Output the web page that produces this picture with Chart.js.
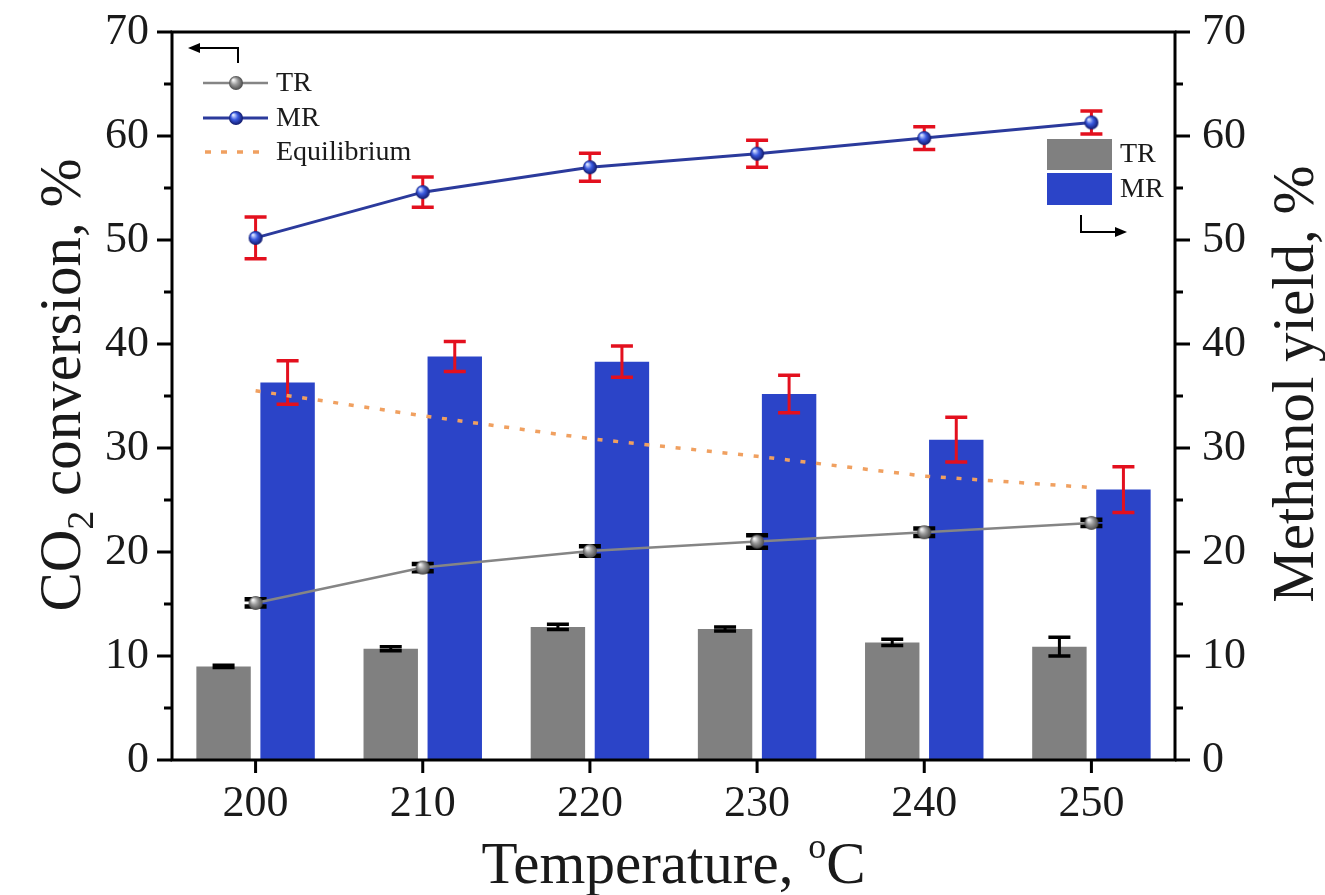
<!DOCTYPE html>
<html>
<head>
<meta charset="utf-8">
<script src="https://cdn.jsdelivr.net/npm/chart.js@4.4.1/dist/chart.umd.min.js"></script>
<style>
  html, body { margin: 0; padding: 0; background: #fff; }
  #wrap { width: 1325px; height: 895px; }
</style>
</head>
<body>
<div id="wrap"><canvas id="tempChart" width="1325" height="895"></canvas></div>
<script>
// data
const temperatures = ['200', '210', '220', '230', '240', '250'];
const trConversion = [15.1, 18.5, 20.1, 21.0, 21.9, 22.8];
const trConversionErr = [0.35, 0.35, 0.45, 0.6, 0.35, 0.3];
const mrConversion = [50.2, 54.6, 57.0, 58.3, 59.8, 61.3];
const mrConversionErr = [2.0, 1.45, 1.35, 1.3, 1.1, 1.1];
const equilibrium = [35.5, 33.1, 30.9, 29.2, 27.3, 26.2];
const trYield = [9.0, 10.7, 12.8, 12.6, 11.3, 10.9];
const trYieldErr = [0.1, 0.2, 0.25, 0.2, 0.3, 0.9];
const mrYield = [36.3, 38.8, 38.3, 35.2, 30.8, 26.0];
const mrYieldErr = [2.1, 1.45, 1.5, 1.8, 2.15, 2.2];
const majorTicks = [0, 10, 20, 30, 40, 50, 60, 70];
const minorTicks = [5, 15, 25, 35, 45, 55, 65];

const SERIF = '"Liberation Serif", "Times New Roman", serif';
const TEXT = '#1a1a1a';

function makeSphere(light, mid, dark, r) {
    var c = document.createElement('canvas');
    c.width = c.height = r * 2 + 2;
    var g = c.getContext('2d');
    var grad = g.createRadialGradient(r * 0.75, r * 0.7, r * 0.1, r + 1, r + 1, r);
    grad.addColorStop(0, light);
    grad.addColorStop(0.45, mid);
    grad.addColorStop(1, dark);
    g.fillStyle = grad;
    g.beginPath();
    g.arc(r + 1, r + 1, r, 0, Math.PI * 2);
    g.fill();
    return c;
}
var graySphere = makeSphere('#f4f4f4', '#9a9a9a', '#4a4a4a', 7);
var blueSphere = makeSphere('#d8e2ff', '#3a5ae0', '#10186a', 7);

// error bars, drawn with the chart's own scales
function drawErrors(chart, index) {
    var ds = chart.data.datasets[index];
    if (!ds.errors) return;
    var meta = chart.getDatasetMeta(index);
    var yScale = chart.scales[ds.yAxisID];
    var ctx = chart.ctx;
    ctx.save();
    ctx.strokeStyle = ds.errorColor;
    meta.data.forEach(function(el, i) {
        var v = ds.data[i], e = ds.errors[i];
        var x = el.x;
        var yTop = yScale.getPixelForValue(v + e);
        var yBot = yScale.getPixelForValue(v - e);
        var half = ds.capWidth / 2;
        ctx.lineWidth = 3;
        ctx.beginPath();
        ctx.moveTo(x, yTop); ctx.lineTo(x, yBot);
        ctx.stroke();
        ctx.lineWidth = ds.capLine;
        ctx.beginPath();
        ctx.moveTo(x - half, yTop); ctx.lineTo(x + half, yTop);
        ctx.moveTo(x - half, yBot); ctx.lineTo(x + half, yBot);
        ctx.stroke();
    });
    ctx.restore();
}

var errorBarPlugin = {
    id: 'errorBars',
    beforeDatasetDraw: function(chart, args) {
        if (!chart.data.datasets[args.index].errorOnTop) drawErrors(chart, args.index);
    },
    afterDatasetDraw: function(chart, args) {
        if (chart.data.datasets[args.index].errorOnTop) drawErrors(chart, args.index);
    }
};

function drawParts(ctx, parts, cx, cy) {
    var total = 0;
    parts.forEach(function(p) {
        ctx.font = p.size + 'px ' + SERIF;
        p.w = ctx.measureText(p.t).width;
        total += p.w;
    });
    var x = cx - total / 2;
    parts.forEach(function(p) {
        ctx.font = p.size + 'px ' + SERIF;
        ctx.fillText(p.t, x, cy + (p.dy || 0));
        x += p.w;
    });
}

function arrowHead(ctx, tipX, tipY, dir) {
    ctx.beginPath();
    ctx.moveTo(tipX, tipY);
    ctx.lineTo(tipX - dir * 12, tipY - 5);
    ctx.lineTo(tipX - dir * 12, tipY + 5);
    ctx.closePath();
    ctx.fill();
}

var framePlugin = {
    id: 'frame',
    afterDraw: function(chart) {
        var ctx = chart.ctx;
        var a = chart.chartArea;
        var yl = chart.scales.yConv, yr = chart.scales.yYield, xs = chart.scales.x;
        ctx.save();
        ctx.strokeStyle = '#000';
        ctx.lineWidth = 3;
        ctx.strokeRect(a.left, a.top, a.right - a.left, a.bottom - a.top);

        ctx.lineWidth = 3;
        ctx.beginPath();
        majorTicks.forEach(function(v) {
            var y = yl.getPixelForValue(v);
            ctx.moveTo(a.left - 15, y); ctx.lineTo(a.left, y);
            y = yr.getPixelForValue(v);
            ctx.moveTo(a.right, y); ctx.lineTo(a.right + 15, y);
        });
        minorTicks.forEach(function(v) {
            var y = yl.getPixelForValue(v);
            ctx.moveTo(a.left - 8, y); ctx.lineTo(a.left, y);
            y = yr.getPixelForValue(v);
            ctx.moveTo(a.right, y); ctx.lineTo(a.right + 8, y);
        });
        temperatures.forEach(function(t, i) {
            var x = xs.getPixelForValue(i);
            ctx.moveTo(x, a.bottom); ctx.lineTo(x, a.bottom + 13);
        });
        ctx.stroke();

        // axis titles
        ctx.fillStyle = TEXT;
        ctx.textBaseline = 'alphabetic';
        ctx.textAlign = 'left';
        drawParts(ctx, [
            { t: 'Temperature, ', size: 59 },
            { t: 'o', size: 36, dy: -25 },
            { t: 'C', size: 59 }
        ], (a.left + a.right) / 2, 883);

        ctx.save();
        ctx.translate(80, (a.top + a.bottom) / 2 - 11);
        ctx.rotate(-Math.PI / 2);
        drawParts(ctx, [
            { t: 'CO', size: 59 },
            { t: '2', size: 38, dy: 13 },
            { t: ' conversion, %', size: 59 }
        ], 0, 0);
        ctx.restore();

        ctx.save();
        ctx.translate(1313, (a.top + a.bottom) / 2 - 12);
        ctx.rotate(-Math.PI / 2);
        drawParts(ctx, [{ t: 'Methanol yield, %', size: 59 }], 0, 0);
        ctx.restore();

        // left legend (conversion, left axis)
        ctx.strokeStyle = '#000';
        ctx.fillStyle = '#000';
        ctx.lineWidth = 2;
        ctx.beginPath();
        ctx.moveTo(238, 63); ctx.lineTo(238, 48); ctx.lineTo(198, 48);
        ctx.stroke();
        arrowHead(ctx, 188, 48, -1);

        ctx.font = '28px ' + SERIF;
        ctx.textBaseline = 'middle';
        ctx.lineWidth = 2.5;
        ctx.strokeStyle = '#858585';
        ctx.beginPath(); ctx.moveTo(203, 83); ctx.lineTo(268, 83); ctx.stroke();
        ctx.drawImage(graySphere, 236 - 8, 83 - 8);
        ctx.strokeStyle = '#2b3a9c';
        ctx.lineWidth = 3;
        ctx.beginPath(); ctx.moveTo(203, 118); ctx.lineTo(268, 118); ctx.stroke();
        ctx.drawImage(blueSphere, 236 - 8, 118 - 8);
        ctx.strokeStyle = '#f0a060';
        ctx.lineWidth = 3.5;
        ctx.setLineDash([6, 10]);
        ctx.beginPath(); ctx.moveTo(205, 152); ctx.lineTo(268, 152); ctx.stroke();
        ctx.setLineDash([]);
        ctx.fillStyle = TEXT;
        ctx.fillText('TR', 276, 84);
        ctx.fillText('MR', 276, 119);
        ctx.fillText('Equilibrium', 276, 153);

        // right legend (yield, right axis)
        ctx.fillStyle = '#808080';
        ctx.fillRect(1047, 139, 65, 31);
        ctx.fillStyle = '#2b44c8';
        ctx.fillRect(1047, 173, 65, 32);
        ctx.fillStyle = TEXT;
        ctx.fillText('TR', 1120, 155);
        ctx.fillText('MR', 1120, 190);
        ctx.strokeStyle = '#000';
        ctx.fillStyle = '#000';
        ctx.lineWidth = 2;
        ctx.beginPath();
        ctx.moveTo(1081, 215); ctx.lineTo(1081, 232); ctx.lineTo(1116, 232);
        ctx.stroke();
        arrowHead(ctx, 1127, 232, 1);
        ctx.restore();
    }
};

function fixY(width) {
    return function(s) {
        s.width = width;
        s.paddingTop = 0;
        s.paddingBottom = 0;
    };
}

var ctxTemp = document.getElementById('tempChart').getContext('2d');
var tempChart = new Chart(ctxTemp, {
    type: 'bar',
    data: {
        labels: temperatures,
        datasets: [
            {
                type: 'line', label: 'TR', data: trConversion, yAxisID: 'yConv',
                borderColor: '#858585', borderWidth: 2.5, pointStyle: graySphere,
                errors: trConversionErr, errorColor: '#000', capWidth: 22, capLine: 4.5, errorOnTop: false,
                order: 0
            },
            {
                type: 'line', label: 'MR', data: mrConversion, yAxisID: 'yConv',
                borderColor: '#2b3a9c', borderWidth: 3, pointStyle: blueSphere,
                errors: mrConversionErr, errorColor: '#e3101e', capWidth: 22, capLine: 3.5, errorOnTop: false,
                order: 0
            },
            {
                type: 'line', label: 'Equilibrium', data: equilibrium, yAxisID: 'yConv',
                borderColor: '#f0a060', borderWidth: 3.5, borderDash: [5, 10.7], pointRadius: 0,
                order: 1
            },
            {
                label: 'TR', data: trYield, yAxisID: 'yYield', backgroundColor: '#808080',
                errors: trYieldErr, errorColor: '#000', capWidth: 22, capLine: 3.5, errorOnTop: true,
                order: 2
            },
            {
                label: 'MR', data: mrYield, yAxisID: 'yYield', backgroundColor: '#2b44c8',
                errors: mrYieldErr, errorColor: '#e3101e', capWidth: 22, capLine: 3.5, errorOnTop: true,
                order: 2
            }
        ]
    },
    options: {
        responsive: false,
        animation: false,
        devicePixelRatio: 1,
        layout: { padding: { top: 32, left: 0, right: 0, bottom: 0 } },
        datasets: {
            bar: { categoryPercentage: 0.766, barPercentage: 0.85 },
            line: { tension: 0 }
        },
        plugins: {
            legend: { display: false },
            tooltip: { enabled: false }
        },
        scales: {
            x: {
                offset: true,
                grid: { display: false, drawTicks: true, tickLength: 13 },
                border: { display: false },
                ticks: { font: { family: SERIF, size: 44 }, color: TEXT, padding: 5, maxRotation: 0 },
                afterFit: function(s) { s.height = 135; s.paddingLeft = 0; s.paddingRight = 0; }
            },
            yConv: {
                position: 'left', min: 0, max: 70,
                grid: { display: false, drawTicks: true, tickLength: 15 },
                border: { display: false },
                ticks: { stepSize: 10, font: { family: SERIF, size: 44 }, color: TEXT, padding: 8 },
                afterFit: fixY(172)
            },
            yYield: {
                position: 'right', min: 0, max: 70,
                grid: { display: false, drawTicks: true, tickLength: 15 },
                border: { display: false },
                ticks: { stepSize: 10, font: { family: SERIF, size: 44 }, color: TEXT, padding: 12 },
                afterFit: fixY(150)
            }
        }
    },
    plugins: [errorBarPlugin, framePlugin]
});
</script>
</body>
</html>
